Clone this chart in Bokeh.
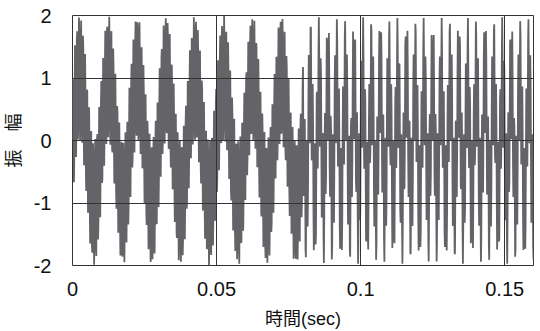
import numpy as np
from bokeh.plotting import figure
from bokeh.models import FixedTicker, Range1d, ColumnDataSource
from bokeh.embed import file_html
from bokeh.resources import INLINE

# ---- data ----
sample_rate = 8000                     # samples per second
segment_start = [0.0, 0.08]            # sec
segment_end = [0.08, 0.1601]           # sec
segment_freqs = [[100, 1430], [330, 1430]]   # Hz, components of each segment
segment_amps = [[1.0, 1.0], [1.0, 1.0]]      # amplitude of each component
x_ticks = [0, 0.05, 0.1, 0.15]
x_tick_labels = ["0", "0.05", "0.1", "0.15"]
y_ticks = [-2, -1, 0, 1, 2]
y_tick_labels = ["-2", "-1", "0", "1", "2"]
x_label = "時間(sec)"
y_label = "振　幅"

# build the waveform from its components
ts, vs = [], []
for s0, s1, fr, am in zip(segment_start, segment_end, segment_freqs, segment_amps):
    t = np.arange(s0, s1, 1.0 / sample_rate)
    v = np.zeros_like(t)
    for f, a in zip(fr, am):
        v = v + a * np.sin(2 * np.pi * f * t)
    ts.append(t)
    vs.append(v)
src = ColumnDataSource(dict(t=np.concatenate(ts), v=np.concatenate(vs)))

p = figure(width=540, height=331, output_backend="svg", toolbar_location=None,
           x_range=Range1d(0, 0.16), y_range=Range1d(-2, 2),
           min_border_left=71, min_border_right=7, min_border_top=15, min_border_bottom=63)
p.background_fill_color = "white"
p.border_fill_color = "white"
p.outline_line_color = "#333333"
p.outline_line_width = 1

p.line("t", "v", source=src, line_color="#646468", line_width=1.8)

p.xaxis.ticker = FixedTicker(ticks=x_ticks)
p.yaxis.ticker = FixedTicker(ticks=y_ticks)
p.xaxis.major_label_overrides = {k: l for k, l in zip(x_ticks, x_tick_labels)}
p.yaxis.major_label_overrides = {k: l for k, l in zip(y_ticks, y_tick_labels)}

for ax in (p.xaxis, p.yaxis):
    ax.axis_line_color = None
    ax.major_tick_line_color = None
    ax.minor_tick_line_color = None
    ax.major_label_text_font = "Liberation Sans"
    ax.major_label_text_font_size = "20px"
    ax.major_label_text_color = "#111111"
    ax.axis_label_text_font = "Liberation Sans, Noto Sans CJK JP"
    ax.axis_label_text_font_size = "18px"
    ax.axis_label_text_font_style = "normal"
    ax.axis_label_text_color = "#111111"

p.xaxis.axis_label = x_label
p.yaxis.axis_label = y_label
p.xaxis.major_label_standoff = 10
p.yaxis.major_label_standoff = 15
p.xaxis.axis_label_standoff = 10
p.yaxis.axis_label_standoff = 7

p.xgrid.level = "overlay"
p.ygrid.level = "overlay"
p.xgrid.grid_line_color = "#333333"
p.ygrid.grid_line_color = "#333333"
p.xgrid.grid_line_width = 1
p.ygrid.grid_line_width = 1

open("out.html", "w").write(file_html(p, INLINE))
